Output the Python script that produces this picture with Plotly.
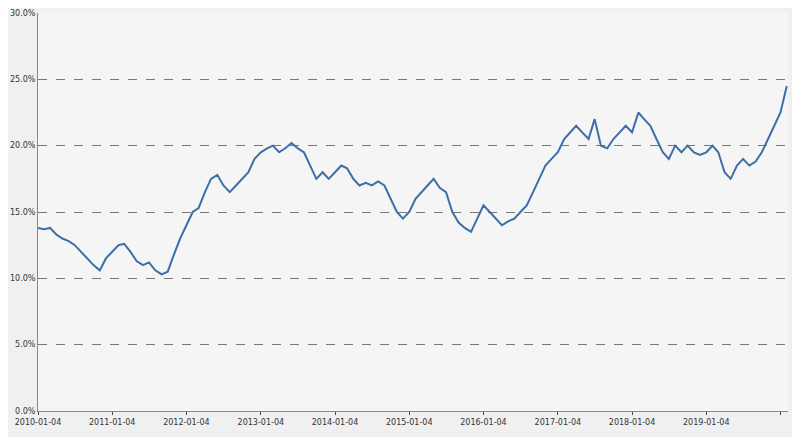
import plotly.graph_objects as go

months = [f"{y}-{m:02d}-04" for y in range(2010, 2020) for m in range(1, 13)] + ["2020-01-04", "2020-02-04"]

values = [
    13.8, 13.7, 13.8, 13.3, 13.0, 12.8, 12.5, 12.0, 11.5, 11.0, 10.6, 11.5,
    12.0, 12.5, 12.6, 12.0, 11.3, 11.0, 11.2, 10.6, 10.3, 10.5, 11.8, 13.0,
    14.0, 15.0, 15.3, 16.5, 17.5, 17.8, 17.0, 16.5, 17.0, 17.5, 18.0, 19.0,
    19.5, 19.8, 20.0, 19.5, 19.8, 20.2, 19.8, 19.5, 18.5, 17.5, 18.0, 17.5,
    18.0, 18.5, 18.3, 17.5, 17.0, 17.2, 17.0, 17.3, 17.0, 16.0, 15.0, 14.5,
    15.0, 16.0, 16.5, 17.0, 17.5, 16.8, 16.5, 15.0, 14.2, 13.8, 13.5, 14.5,
    15.5, 15.0, 14.5, 14.0, 14.3, 14.5, 15.0, 15.5, 16.5, 17.5, 18.5, 19.0,
    19.5, 20.5, 21.0, 21.5, 21.0, 20.5, 22.0, 20.0, 19.8, 20.5, 21.0, 21.5,
    21.0, 22.5, 22.0, 21.5, 20.5, 19.5, 19.0, 20.0, 19.5, 20.0, 19.5, 19.3,
    19.5, 20.0, 19.5, 18.0, 17.5, 18.5, 19.0, 18.5, 18.8, 19.5, 20.5, 21.5,
    22.5, 24.5,
]
values = [v / 100 for v in values]

tick_dates = [f"{y}-01-04" for y in range(2010, 2021)]

fig = go.Figure(go.Scatter(x=months, y=values, mode="lines",
                           line=dict(color="#3d6fa6", width=2)))

# page has 8px body margin, so shift the figure back
fig.update_layout(
    width=792, height=429,
    margin=dict(l=30, r=12, t=5, b=26),
    paper_bgcolor="#f0f0f0", plot_bgcolor="#f5f5f5",
    showlegend=False,
    font=dict(family="DejaVu Sans", size=8, color="#333"),
)
fig.update_xaxes(
    type="date", range=["2010-01-04", "2020-02-10"], automargin=False,
    tickvals=tick_dates, ticktext=tick_dates,
    showgrid=False, showline=True, linecolor="#888", ticks="outside", ticklen=3,
)
fig.update_yaxes(
    range=[0, 0.30], dtick=0.05, tickformat=".1%", automargin=False,
    showgrid=True, gridcolor="#777", griddash="dash", gridwidth=0.7,
    showline=True, linecolor="#888", zeroline=False,
)

fig.write_html("out.html")
